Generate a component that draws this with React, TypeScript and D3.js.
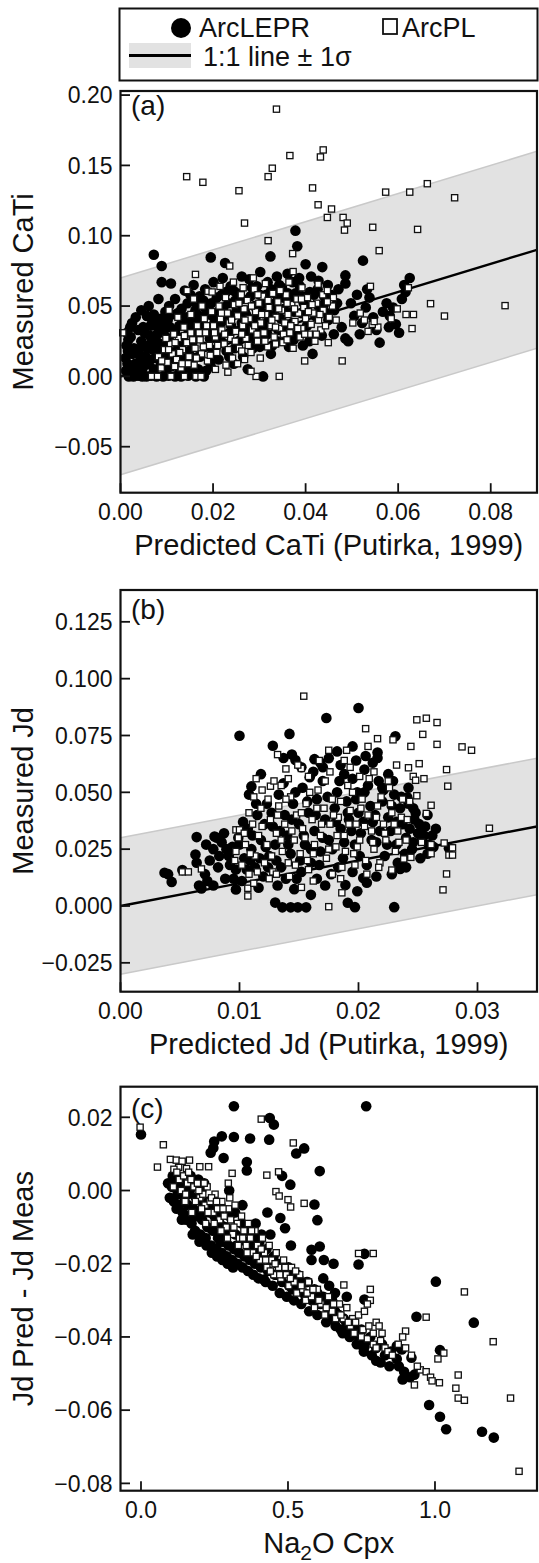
import React from 'react';
import * as d3 from 'd3';

type P = [number, number];

// ---------- Panel (a): CaTi ----------
const A_LEPR: P[] = [
  [0.0018,0.000],[0.0028,0.000],[0.0038,0.0005],[0.0047,0.000],[0.0056,0.000],[0.0066,0.0005],[0.0078,0.000],[0.0092,0.000],[0.0104,0.0005],[0.0118,0.000],[0.0131,0.000],[0.0146,0.0005],[0.0163,0.000],[0.018,0.000],[0.0308,0.000],
  [0.0012,0.004],[0.0015,0.009],[0.0011,0.013],[0.0016,0.018],[0.0013,0.022],[0.0017,0.026],[0.0014,0.031],[0.0021,0.035],[0.0025,0.038],[0.0033,0.042],[0.0022,0.028],[0.0026,0.016],[0.0024,0.006],
  [0.0035,0.003],[0.0048,0.006],[0.0042,0.011],[0.0061,0.009],[0.0055,0.014],[0.0072,0.005],[0.0036,0.019],[0.0058,0.02],[0.0075,0.013],[0.0084,0.018],[0.0045,0.025],[0.0068,0.025],[0.0088,0.009],[0.0098,0.014],[0.0095,0.022],[0.0052,0.031],[0.0079,0.03],[0.0104,0.027],[0.0112,0.018],[0.0121,0.009],[0.0133,0.013],[0.0128,0.004],[0.0141,0.007],[0.0153,0.011],[0.0168,0.005],[0.0172,0.014],[0.0148,0.018],[0.0125,0.023],[0.0118,0.031],[0.0091,0.035],[0.0065,0.036],[0.0102,0.04],
  [0.0061,0.050],[0.0045,0.047],[0.0072,0.044],[0.0089,0.0785],[0.0072,0.0865],[0.0089,0.067],[0.0109,0.066],[0.0082,0.055],[0.0105,0.05],[0.0124,0.045],[0.0118,0.055],[0.0138,0.038],[0.0145,0.052],[0.0139,0.061],[0.0162,0.047],[0.0171,0.057],[0.0158,0.065],[0.0195,0.0846],[0.0183,0.062],[0.0201,0.067],[0.0221,0.07],[0.0226,0.0806],[0.0238,0.064],[0.0252,0.059],[0.0262,0.071],[0.0278,0.069],[0.0302,0.0742],[0.0295,0.064],[0.0318,0.067],[0.0324,0.0853],[0.0338,0.071],[0.0349,0.063],[0.0361,0.073],[0.0372,0.067],[0.0378,0.1036],[0.0382,0.0925],[0.0386,0.07],[0.040,0.0797],[0.0412,0.071],[0.0436,0.0777],[0.0428,0.068],[0.0448,0.065],[0.0486,0.0718],[0.0524,0.0823],[0.0625,0.070],
  [0.0155,0.024],[0.0168,0.029],[0.0182,0.021],[0.0191,0.033],[0.0178,0.038],[0.0162,0.034],[0.0199,0.043],[0.0184,0.048],[0.0207,0.027],[0.0215,0.037],[0.0222,0.049],[0.0229,0.018],[0.0236,0.031],[0.0241,0.043],[0.0248,0.054],[0.0255,0.025],[0.0262,0.038],[0.0268,0.047],[0.0275,0.031],[0.0281,0.057],[0.0286,0.02],[0.0292,0.042],[0.0298,0.05],[0.0305,0.028],[0.0311,0.036],[0.0315,0.058],[0.0322,0.045],[0.0328,0.022],[0.0334,0.052],[0.0341,0.033],[0.0347,0.041],[0.0352,0.056],[0.0359,0.027],[0.0365,0.048],[0.0371,0.038],[0.0378,0.059],[0.0383,0.031],[0.039,0.045],[0.0396,0.052],[0.0403,0.036],[0.0409,0.06],[0.0415,0.016],[0.0421,0.043],[0.0428,0.05],[0.0435,0.029],[0.0442,0.056],[0.0449,0.04],[0.0212,0.012],[0.0245,0.009],[0.0265,0.014],[0.0275,0.005],[0.0195,0.007],[0.0228,0.06],[0.0208,0.056],[0.0198,0.016],
  [0.0462,0.047],[0.0471,0.062],[0.0478,0.035],[0.0486,0.027],[0.0492,0.025],[0.0498,0.052],[0.0505,0.043],[0.0511,0.058],[0.0517,0.030],[0.0522,0.038],[0.053,0.049],[0.0538,0.056],[0.0546,0.042],[0.0553,0.033],[0.056,0.024],[0.0567,0.046],[0.0575,0.052],[0.058,0.035],[0.0582,0.043],[0.0589,0.049],[0.0595,0.037],[0.0602,0.031],[0.0608,0.055],[0.0616,0.06],[0.0613,0.065],[0.0533,0.062],[0.0486,0.066],[0.0461,0.03],
  [0.0032,0.009],[0.0041,0.016],[0.0053,0.022],[0.0049,0.035],[0.0063,0.029],[0.0071,0.019],[0.0069,0.039],[0.0081,0.024],[0.0086,0.041],[0.0093,0.031],[0.0097,0.046],[0.0107,0.035],[0.0111,0.044],[0.0114,0.011],[0.0127,0.036],[0.0132,0.048],[0.0136,0.028],[0.0142,0.042],[0.0147,0.033],[0.0151,0.058],[0.0157,0.039],[0.0164,0.052],[0.0169,0.043],[0.0176,0.032],[0.0179,0.054],[0.0187,0.044],[0.0193,0.027],[0.0196,0.052],[0.0203,0.038],[0.0211,0.046],[0.0217,0.031],[0.0219,0.058],[0.0226,0.04],[0.0233,0.052],[0.0239,0.036],[0.0244,0.061],[0.0251,0.047],[0.0258,0.033],[0.0263,0.055],[0.0271,0.044],[0.0277,0.036],[0.0284,0.063],[0.0289,0.05],[0.0294,0.033],[0.0301,0.058],[0.0308,0.045],[0.0313,0.052],[0.0319,0.039],[0.0326,0.062],[0.0331,0.047],[0.0337,0.058],[0.0343,0.065],[0.0354,0.048],[0.0362,0.059],[0.0368,0.055],[0.0375,0.046],[0.0388,0.064],[0.0393,0.057],[0.0401,0.048],[0.0418,0.058],[0.0426,0.062],[0.0439,0.051],[0.0445,0.045],[0.0455,0.058],[0.0468,0.052],[0.0193,0.01],[0.0221,0.024],[0.0247,0.02],[0.0262,0.027],[0.0283,0.027],[0.0317,0.03],[0.0339,0.025],[0.0356,0.034],[0.0374,0.026],[0.0394,0.022],[0.0408,0.025],[0.0057,0.043],[0.0038,0.033],[0.0029,0.02],[0.0077,0.036],[0.0099,0.005],[0.0109,0.007],[0.0138,0.002],[0.0155,0.003],[0.0185,0.004],[0.0205,0.019],[0.0235,0.014],[0.0301,0.021],[0.0325,0.016],[0.0364,0.021],
];

const A_PL: P[] = [
  [0.0337,0.190],[0.0143,0.142],[0.0178,0.138],[0.0256,0.132],[0.0268,0.109],[0.0319,0.142],[0.0328,0.148],[0.0366,0.157],[0.0432,0.156],[0.0438,0.161],[0.0415,0.134],[0.0427,0.122],[0.0456,0.119],[0.0447,0.113],[0.0481,0.113],[0.049,0.109],[0.0484,0.104],[0.0545,0.106],[0.0573,0.131],[0.0625,0.131],[0.0663,0.137],[0.0722,0.127],[0.0642,0.1045],[0.0559,0.0894],[0.0319,0.0965],[0.0372,0.0873],[0.0373,0.0745],[0.0236,0.0785],[0.0162,0.0725],[0.0144,0.061],[0.0189,0.0605],[0.054,0.064],[0.0622,0.063],[0.067,0.0517],[0.0831,0.0503],[0.070,0.0429],[0.0617,0.044],[0.0633,0.044],[0.0105,0.047],[0.0427,0.0655],[0.0437,0.058],[0.046,0.056],[0.0447,0.061],[0.063,0.034],[0.0556,0.035],[0.0544,0.037],[0.0527,0.04],[0.0449,0.024],[0.0479,0.011],[0.0398,0.011],[0.0343,0.000],[0.0293,0.000],[0.0282,0.0036],[0.0302,0.013],[0.0067,0.000],[0.008,0.000],[0.0109,0.000],[0.0138,0.000],[0.0163,0.000],[0.0174,0.000],[0.0005,0.031],
  [0.0082,0.014],[0.0095,0.019],[0.0088,0.006],[0.0101,0.01],[0.0112,0.016],[0.0108,0.023],[0.0121,0.012],[0.0125,0.027],[0.0134,0.019],[0.0131,0.006],[0.0143,0.024],[0.0148,0.014],[0.0152,0.031],[0.0159,0.008],[0.0161,0.02],[0.0166,0.036],[0.0172,0.026],[0.0175,0.016],[0.0181,0.041],[0.0184,0.031],[0.0188,0.011],[0.0192,0.022],[0.0197,0.046],[0.0201,0.036],[0.0205,0.028],[0.0208,0.017],[0.0213,0.05],[0.0216,0.041],[0.0219,0.033],[0.0224,0.023],[0.0227,0.056],[0.0231,0.045],[0.0235,0.038],[0.0238,0.027],[0.0242,0.013],[0.0246,0.051],[0.0249,0.032],[0.0253,0.043],[0.0257,0.02],[0.0261,0.058],[0.0264,0.036],[0.0267,0.048],[0.0271,0.027],[0.0274,0.054],[0.0278,0.041],[0.0282,0.017],[0.0285,0.033],[0.0289,0.062],[0.0292,0.046],[0.0296,0.025],[0.0299,0.052],[0.0303,0.038],[0.0307,0.057],[0.031,0.031],[0.0314,0.044],[0.0318,0.021],[0.0321,0.049],[0.0325,0.036],[0.0329,0.059],[0.0332,0.028],[0.0336,0.042],[0.034,0.053],[0.0344,0.034],[0.0348,0.047],[0.0351,0.024],[0.0355,0.038],[0.0358,0.058],[0.0362,0.044],[0.0366,0.031],[0.037,0.051],[0.0373,0.02],[0.0377,0.039],[0.0381,0.055],[0.0385,0.045],[0.0388,0.028],[0.0392,0.034],[0.0396,0.049],[0.04,0.041],[0.0404,0.056],[0.0408,0.03],[0.0412,0.037],[0.0416,0.045],[0.042,0.025],[0.0424,0.052],[0.0428,0.04],[0.0433,0.033],[0.0438,0.047],[0.0443,0.036],[0.0451,0.042],[0.0458,0.05],[0.0466,0.04],[0.0502,0.038],[0.0518,0.045],[0.0535,0.032],[0.0548,0.039],[0.0585,0.041],[0.0598,0.048],[0.0198,0.06],[0.0215,0.064],[0.0244,0.067],[0.0265,0.063],[0.0287,0.07],[0.0313,0.066],[0.0345,0.061],[0.0364,0.067],[0.0392,0.063],[0.0152,0.044],[0.0137,0.035],[0.0124,0.042],[0.0115,0.03],[0.0098,0.027],[0.0176,0.05],[0.0158,0.055],[0.0205,0.005],[0.0228,0.008],[0.0253,0.009],[0.0268,0.012],[0.0232,0.003],
  [0.0089,0.011],[0.0104,0.019],[0.0118,0.024],[0.0128,0.017],[0.0138,0.029],[0.0146,0.009],[0.0156,0.026],[0.0164,0.013],[0.017,0.031],[0.0179,0.021],[0.0186,0.036],[0.0194,0.015],[0.0203,0.031],[0.021,0.022],[0.0218,0.045],[0.0225,0.03],[0.0233,0.019],[0.024,0.04],[0.0248,0.025],[0.0256,0.052],[0.0262,0.03],[0.0269,0.04],[0.0276,0.022],[0.0283,0.05],[0.029,0.036],[0.0297,0.058],[0.0305,0.044],[0.0312,0.025],[0.0319,0.054],[0.0327,0.04],[0.0335,0.035],[0.0342,0.048],[0.0352,0.03],[0.036,0.052],[0.0368,0.036],[0.0376,0.048],[0.0383,0.034],[0.0391,0.055],[0.0398,0.03],[0.0406,0.046],[0.0414,0.051],[0.0423,0.03],[0.0431,0.044],[0.0447,0.053],[0.0262,0.018],[0.0295,0.03],[0.0335,0.023],[0.036,0.026],[0.0133,0.009],[0.0117,0.007],
];

// ---------- Panel (b): Jd ----------
const B_LEPR: P[] = [
  [0.0037,0.0146],[0.004,0.014],[0.0043,0.0106],[0.0052,0.0158],[0.0064,0.0303],[0.0063,0.0226],[0.0064,0.019],[0.0066,0.009],[0.0068,0.0077],[0.0073,0.011],[0.0079,0.0306],[0.0097,0.0073],[0.013,0.0015],[0.0136,-0.0006],[0.0143,-0.0006],[0.0149,-0.0006],[0.0156,-0.0006],[0.0146,0.0074],[0.016,0.0049],[0.0191,0.0014],[0.0197,-0.0005],[0.0199,0.0065],[0.0204,0.0123],[0.0207,0.0102],[0.023,-0.0005],[0.0189,0.0092],[0.0235,0.0163],[0.0238,0.0173],[0.0241,0.0478],[0.0276,0.0254],
  [0.0100,0.0749],[0.0200,0.0871],[0.0173,0.0827],[0.0142,0.0757],[0.0128,0.0705],[0.0231,0.0747],[0.0195,0.0702],[0.0137,0.0651],[0.0144,0.0666],[0.0147,0.0642],[0.0163,0.0646],[0.0175,0.065],[0.0182,0.068],[0.0206,0.066],[0.0216,0.0675],[0.0216,0.0651],[0.0118,0.058],[0.0110,0.0526],[0.0108,0.049],[0.0159,0.0566],[0.0170,0.061],[0.022,0.052],
  [0.0071,0.014],[0.0075,0.02],[0.0078,0.025],[0.0082,0.017],[0.0085,0.028],[0.0088,0.012],[0.0091,0.022],[0.0094,0.026],[0.0097,0.016],[0.0099,0.03],[0.0102,0.011],[0.0104,0.021],[0.0107,0.034],[0.011,0.025],[0.0113,0.017],[0.0115,0.04],[0.0118,0.029],[0.012,0.013],[0.0123,0.045],[0.0125,0.022],[0.0128,0.035],[0.013,0.027],[0.0133,0.049],[0.0135,0.017],[0.0138,0.04],[0.014,0.031],[0.0143,0.023],[0.0145,0.045],[0.0148,0.012],[0.015,0.036],[0.0153,0.052],[0.0155,0.027],[0.0158,0.041],[0.016,0.019],[0.0163,0.033],[0.0165,0.047],[0.0168,0.024],[0.017,0.055],[0.0172,0.038],[0.0175,0.029],[0.0177,0.014],[0.018,0.043],[0.0182,0.05],[0.0185,0.034],[0.0187,0.021],[0.019,0.046],[0.0192,0.038],[0.0195,0.056],[0.0197,0.027],[0.02,0.041],[0.0202,0.032],[0.0205,0.05],[0.0207,0.018],[0.021,0.044],[0.0212,0.037],[0.0215,0.028],[0.0217,0.055],[0.022,0.046],[0.0222,0.022],[0.0225,0.039],[0.0227,0.033],[0.023,0.049],[0.0232,0.027],[0.0235,0.043],[0.0237,0.036],[0.024,0.03],[0.0242,0.045],[0.0245,0.025],[0.0247,0.038],[0.025,0.032],[0.0253,0.029],[0.0256,0.035],[0.0259,0.027],[0.0262,0.031],[0.0252,0.021],[0.0228,0.014],[0.0195,0.015],[0.0172,0.009],[0.0152,0.015],[0.0132,0.009],[0.0116,0.008],[0.0205,0.06],[0.0188,0.058],[0.0225,0.058],[0.0162,0.059],[0.0198,0.064],[0.0258,0.023],[0.0248,0.041],[0.024,0.017],
  [0.0072,0.027],[0.0078,0.009],[0.0083,0.022],[0.0087,0.032],[0.0092,0.018],[0.0095,0.012],[0.01,0.027],[0.0103,0.037],[0.0106,0.016],[0.0111,0.031],[0.0114,0.045],[0.0117,0.021],[0.0121,0.036],[0.0124,0.017],[0.0127,0.041],[0.0131,0.02],[0.0134,0.033],[0.0137,0.054],[0.0141,0.027],[0.0144,0.038],[0.0147,0.05],[0.0151,0.02],[0.0154,0.031],[0.0157,0.046],[0.016,0.025],[0.0164,0.04],[0.0167,0.018],[0.017,0.03],[0.0174,0.048],[0.0178,0.025],[0.0181,0.037],[0.0184,0.055],[0.0188,0.028],[0.0191,0.041],[0.0194,0.033],[0.0198,0.047],[0.0201,0.022],[0.0204,0.037],[0.0208,0.053],[0.0211,0.029],[0.0214,0.04],[0.0218,0.033],[0.0221,0.051],[0.0224,0.027],[0.0228,0.044],[0.0232,0.037],[0.0236,0.048],[0.0239,0.023],[0.0243,0.034],[0.0246,0.028],[0.0251,0.036],[0.0255,0.031],[0.0246,0.043],[0.0233,0.019],[0.0215,0.013],[0.0183,0.017],[0.0165,0.012],[0.0139,0.012],[0.0122,0.026],[0.0109,0.02],[0.0089,0.025],[0.0081,0.03],[0.0185,0.062],[0.0168,0.063],[0.0212,0.063],[0.0152,0.061],[0.0199,0.05],[0.0229,0.055],[0.0242,0.052],[0.0258,0.04],[0.0265,0.034],[0.0263,0.026],
];

const B_PL: P[] = [
  [0.0154,0.0923],[0.0206,0.078],[0.0216,0.0736],[0.0229,0.0731],[0.0249,0.0819],[0.0257,0.0826],[0.0266,0.0807],[0.0254,0.0755],[0.0266,0.0711],[0.0244,0.0702],[0.0287,0.070],[0.0295,0.0685],[0.0274,0.060],[0.0275,0.0527],[0.0232,0.062],[0.0242,0.0608],[0.0251,0.0626],[0.0246,0.057],[0.0248,0.0553],[0.0255,0.056],[0.0208,0.0702],[0.019,0.0685],[0.0175,0.0685],[0.0132,0.0666],[0.0152,0.0605],[0.0139,0.0603],[0.0141,0.056],[0.0114,0.056],[0.0126,0.0527],
  [0.031,0.0342],[0.0271,0.0071],[0.0274,0.0141],[0.0276,0.0224],[0.0279,0.0224],[0.0279,0.0256],[0.0272,0.0277],[0.0175,-0.0003],[0.0186,0.0058],[0.0107,0.0044],[0.0107,0.0078],[0.0152,0.0082],[0.0052,0.015],[0.0057,0.015],[0.0068,0.0163],[0.0243,0.046],[0.0249,0.0485],[0.0261,0.0443],[0.0257,0.0407],[0.0261,0.027],[0.0261,0.023],[0.0253,0.028],[0.0244,0.0214],[0.0238,0.0207],[0.0228,0.0158],[0.0097,0.0335],[0.0100,0.0335],
  [0.0102,0.018],[0.0105,0.027],[0.0108,0.014],[0.0111,0.036],[0.0113,0.022],[0.0116,0.031],[0.0118,0.043],[0.0121,0.019],[0.0123,0.027],[0.0126,0.038],[0.0128,0.015],[0.0131,0.032],[0.0133,0.044],[0.0136,0.024],[0.0138,0.036],[0.0141,0.019],[0.0143,0.048],[0.0146,0.029],[0.0148,0.04],[0.0151,0.023],[0.0153,0.034],[0.0156,0.045],[0.0158,0.016],[0.0161,0.038],[0.0163,0.027],[0.0166,0.051],[0.0168,0.031],[0.0171,0.043],[0.0173,0.021],[0.0176,0.036],[0.0178,0.047],[0.0181,0.026],[0.0183,0.039],[0.0186,0.017],[0.0188,0.031],[0.0191,0.053],[0.0193,0.042],[0.0196,0.023],[0.0198,0.036],[0.0201,0.029],[0.0203,0.047],[0.0206,0.02],[0.0208,0.04],[0.0211,0.033],[0.0213,0.025],[0.0216,0.044],[0.0218,0.019],[0.0221,0.036],[0.0223,0.029],[0.0226,0.052],[0.0228,0.041],[0.0231,0.024],[0.0233,0.033],[0.0236,0.039],[0.024,0.029],[0.0119,0.051],[0.0135,0.053],[0.0158,0.057],[0.0176,0.059],[0.0193,0.061],[0.0213,0.059],[0.0225,0.055],[0.0108,0.041],[0.0097,0.024],[0.0112,0.01],[0.0125,0.012],[0.0142,0.013],[0.0162,0.011],[0.0185,0.012],[0.0207,0.014],[0.0217,0.017],
  [0.0104,0.032],[0.0109,0.023],[0.0115,0.015],[0.0119,0.035],[0.0124,0.047],[0.0127,0.022],[0.0132,0.04],[0.0135,0.029],[0.0139,0.047],[0.0144,0.033],[0.0147,0.018],[0.0152,0.041],[0.0155,0.03],[0.0159,0.05],[0.0162,0.023],[0.0165,0.043],[0.0169,0.036],[0.0172,0.055],[0.0175,0.025],[0.0179,0.04],[0.0182,0.031],[0.0185,0.046],[0.0189,0.024],[0.0192,0.036],[0.0195,0.05],[0.0199,0.026],[0.0202,0.043],[0.0205,0.035],[0.0209,0.056],[0.0212,0.028],[0.0215,0.039],[0.0219,0.048],[0.0222,0.032],[0.0227,0.045],[0.023,0.036],[0.0234,0.028],[0.0237,0.047],[0.0241,0.038],[0.0129,0.055],[0.0149,0.062],[0.0167,0.064],[0.0188,0.064],[0.0201,0.057],[0.0112,0.048],[0.0099,0.03],[0.0096,0.02],[0.0157,0.02],[0.0178,0.014],[0.0197,0.018],[0.0131,0.014],
];

// ---------- Panel (c): residual vs Na2O ----------
const C_LEPR: P[] = [
  [0.0,0.0153],[0.316,0.023],[0.766,0.023],[0.438,0.0198],[0.452,0.018],[0.275,0.0148],[0.316,0.0146],[0.371,0.0142],[0.436,0.0139],[0.249,0.0134],[0.246,0.0116],[0.237,0.0103],[0.281,0.0089],[0.555,0.0115],[0.528,0.0101],[0.608,0.0053],[0.36,0.0078],[0.36,0.0055],[0.508,0.0016],[0.48,0.004],[0.59,-0.0038],[0.60,-0.0081],[0.474,-0.0075],[0.49,-0.0103],[0.608,-0.0153],[0.58,-0.0162],[0.74,-0.0202],[0.76,-0.0173],[1.003,-0.0249],[0.622,-0.019],[0.655,-0.02],
  [0.418,-0.0243],[0.937,-0.0345],[1.132,-0.0361],[1.017,-0.0436],[0.87,-0.0425],[0.887,-0.0434],[0.92,-0.0457],[0.877,-0.048],[0.895,-0.0495],[0.89,-0.0516],[0.915,-0.051],[0.93,-0.0503],[0.98,-0.0586],[1.017,-0.0618],[1.038,-0.0652],[1.16,-0.0659],[1.2,-0.0675],[0.75,-0.0422],[0.76,-0.0427],[0.8,-0.0465],[0.68,-0.038],[0.70,-0.0378],[0.76,-0.0298],[0.64,-0.026],[0.66,-0.028],[0.515,-0.027],
  [0.092,0.002],[0.098,-0.002],[0.105,0.001],[0.112,-0.003],[0.118,0.003],[0.124,-0.001],[0.13,-0.004],[0.136,0.001],[0.142,-0.006],[0.148,-0.002],[0.154,-0.008],[0.16,-0.004],[0.166,0.0],[0.172,-0.009],[0.178,-0.005],[0.184,-0.011],[0.19,-0.007],[0.196,-0.002],[0.202,-0.012],[0.208,-0.008],[0.214,-0.004],[0.22,-0.013],[0.226,-0.01],[0.232,-0.006],[0.238,-0.015],[0.244,-0.011],[0.25,-0.007],[0.256,-0.016],[0.262,-0.013],[0.268,-0.009],[0.274,-0.017],[0.28,-0.014],[0.286,-0.01],[0.292,-0.018],[0.298,-0.015],[0.304,-0.011],[0.31,-0.019],[0.316,-0.016],[0.322,-0.012],[0.328,-0.02],[0.334,-0.017],[0.34,-0.013],[0.346,-0.021],[0.352,-0.018],[0.358,-0.014],[0.364,-0.022],[0.37,-0.019],[0.376,-0.015],[0.382,-0.023],[0.388,-0.02],[0.394,-0.016],[0.4,-0.024],[0.408,-0.021],[0.416,-0.017],[0.424,-0.025],[0.432,-0.022],[0.44,-0.019],[0.448,-0.026],[0.456,-0.023],[0.464,-0.02],[0.472,-0.028],[0.48,-0.025],[0.488,-0.022],[0.496,-0.029],[0.504,-0.026],[0.512,-0.023],[0.52,-0.03],[0.528,-0.027],[0.536,-0.024],[0.545,-0.031],[0.554,-0.028],[0.563,-0.025],[0.572,-0.033],[0.581,-0.03],[0.59,-0.027],[0.6,-0.034],[0.61,-0.031],[0.62,-0.029],[0.63,-0.036],[0.64,-0.033],[0.65,-0.03],[0.662,-0.037],[0.674,-0.034],[0.686,-0.039],[0.698,-0.036],[0.71,-0.04],[0.722,-0.037],[0.734,-0.042],[0.746,-0.039],[0.758,-0.044],[0.77,-0.041],[0.785,-0.045],[0.8,-0.043],[0.815,-0.047],[0.83,-0.045],[0.845,-0.048],[0.215,0.002],[0.195,0.003],[0.27,-0.004],[0.32,-0.006],[0.41,-0.012],[0.3,0.0],
  [0.108,0.004],[0.121,-0.005],[0.134,0.003],[0.139,-0.008],[0.151,0.001],[0.163,-0.007],[0.169,0.004],[0.176,-0.012],[0.187,-0.002],[0.199,-0.014],[0.205,0.0],[0.211,-0.006],[0.223,-0.015],[0.229,-0.003],[0.241,-0.017],[0.247,-0.004],[0.259,-0.018],[0.265,-0.006],[0.277,-0.019],[0.283,-0.012],[0.295,-0.02],[0.301,-0.007],[0.313,-0.021],[0.325,-0.015],[0.343,-0.009],[0.361,-0.011],[0.385,-0.013],[0.403,-0.014],[0.427,-0.016],[0.451,-0.018],[0.477,-0.02],[0.502,-0.021],[0.533,-0.023],[0.567,-0.025],[0.6,-0.028],[0.63,-0.03],[0.66,-0.033],[0.69,-0.035],[0.72,-0.036],[0.75,-0.038],[0.78,-0.04],[0.82,-0.042],[0.85,-0.044],[0.87,-0.046],[0.44,-0.012],[0.39,-0.009],[0.345,-0.004],[0.43,-0.006],[0.51,-0.015],[0.62,-0.024],[0.7,-0.029],[0.58,-0.019],[0.46,-0.023],[0.38,-0.019],[0.27,-0.014],[0.16,-0.001],[0.56,-0.029],[0.65,-0.035],[0.74,-0.04],
];

const C_PL: P[] = [
  [-0.003,0.0173],[0.076,0.0125],[0.056,0.0064],[0.1,0.0085],[0.12,0.0083],[0.14,0.008],[0.165,0.0083],[0.128,0.0063],[0.112,0.0058],[0.155,0.006],[0.2,0.0065],[0.23,0.0065],[0.409,0.0195],[0.518,0.013],[0.468,0.0051],[0.428,0.0042],[0.555,-0.0035],[0.509,-0.0045],[0.459,-0.0003],[0.47,-0.0015],[0.5,-0.0025],[0.31,0.0047],[0.297,0.002],[0.74,-0.0172],[0.79,-0.0172],[0.69,-0.0258],[1.1,-0.0277],[1.286,-0.0767],[1.257,-0.0567],[1.198,-0.0413],[1.079,-0.0504],[1.071,-0.054],[1.079,-0.0567],[1.1,-0.0573],[1.03,-0.0444],[1.01,-0.046],[0.97,-0.0346],[0.95,-0.049],[0.97,-0.0495],[0.985,-0.051],[0.99,-0.052],[1.015,-0.0525],[0.9,-0.0384],[0.89,-0.040],[0.9,-0.043],[0.93,-0.0531],[0.78,-0.027],[0.78,-0.030],[0.77,-0.031],[0.8,-0.036],[0.81,-0.037],[0.82,-0.039],[0.83,-0.043],[0.79,-0.042],[0.8,-0.043],[0.75,-0.04],[0.77,-0.0405],[0.72,-0.035],[0.74,-0.034],[0.76,-0.033],
  [0.13,0.003],[0.145,0.004],[0.158,0.002],[0.17,0.003],[0.18,0.001],[0.192,0.002],[0.2,-0.002],[0.21,-0.001],[0.218,-0.004],[0.225,0.001],[0.235,-0.003],[0.245,-0.006],[0.252,-0.001],[0.26,-0.005],[0.268,-0.008],[0.275,-0.003],[0.283,-0.007],[0.29,-0.01],[0.298,-0.005],[0.305,-0.008],[0.312,-0.012],[0.32,-0.004],[0.328,-0.009],[0.335,-0.013],[0.342,-0.007],[0.35,-0.011],[0.358,-0.015],[0.365,-0.009],[0.372,-0.013],[0.38,-0.017],[0.388,-0.011],[0.396,-0.015],[0.405,-0.019],[0.413,-0.013],[0.42,-0.017],[0.428,-0.021],[0.436,-0.015],[0.444,-0.019],[0.452,-0.023],[0.46,-0.017],[0.468,-0.021],[0.476,-0.024],[0.485,-0.019],[0.494,-0.023],[0.503,-0.026],[0.512,-0.021],[0.521,-0.025],[0.53,-0.028],[0.54,-0.023],[0.55,-0.027],[0.56,-0.03],[0.57,-0.025],[0.58,-0.029],[0.59,-0.032],[0.6,-0.027],[0.612,-0.031],[0.625,-0.034],[0.638,-0.029],[0.65,-0.033],[0.662,-0.035],[0.675,-0.031],[0.688,-0.035],[0.7,-0.032],[0.712,-0.037],[0.725,-0.039],[0.173,-0.006],[0.22,-0.009],[0.15,-0.003],
  [0.11,0.001],[0.122,0.005],[0.137,0.0],[0.152,-0.001],[0.162,0.005],[0.185,-0.003],[0.197,0.0],[0.206,-0.005],[0.215,0.002],[0.228,-0.006],[0.24,-0.002],[0.249,-0.009],[0.257,-0.003],[0.272,-0.011],[0.279,-0.005],[0.294,-0.013],[0.302,-0.002],[0.316,-0.01],[0.331,-0.015],[0.346,-0.013],[0.361,-0.017],[0.376,-0.011],[0.392,-0.018],[0.409,-0.016],[0.424,-0.019],[0.44,-0.022],[0.456,-0.02],[0.472,-0.023],[0.49,-0.021],[0.508,-0.024],[0.526,-0.022],[0.545,-0.026],[0.565,-0.028],[0.585,-0.027],[0.605,-0.03],[0.63,-0.032],[0.655,-0.031],[0.68,-0.034],[0.705,-0.036],[0.73,-0.036],[0.755,-0.038],[0.775,-0.037],[0.79,-0.039],[0.815,-0.041],[0.84,-0.044],[0.855,-0.045],[0.875,-0.042],[0.92,-0.045],[0.94,-0.048],
];

// ---------- ticks & labels ----------
const A_XTICKS = [0, 0.02, 0.04, 0.06, 0.08];
const A_YTICKS = [0.2, 0.15, 0.1, 0.05, 0, -0.05];
const B_XTICKS = [0, 0.01, 0.02, 0.03];
const B_YTICKS = [0.125, 0.1, 0.075, 0.05, 0.025, 0, -0.025];
const C_XTICKS = [0, 0.5, 1.0];
const C_YTICKS = [0.02, 0, -0.02, -0.04, -0.06, -0.08];
const SIGMA_A = 0.07;
const SIGMA_B = 0.03;
const SERIES_NAMES = ['ArcLEPR', 'ArcPL'];
const LINE_LABEL = '1:1 line \u00b1 1\u03c3';

const FONT = '"Liberation Sans", Arial, Helvetica, sans-serif';
const LEFT = 120.5;
const RIGHT = 537;

const fmt = (d: number, n: number) => {
  const s = Math.abs(d).toFixed(n);
  return (d < -1e-12 ? '\u2212' : '') + s;
};

type PanelProps = {
  top: number; bottom: number;
  xDomain: [number, number]; yDomain: [number, number];
  xTicks: number[]; yTicks: number[]; xDec: number; yDec: number;
  lepr: P[]; pl: P[]; sigma?: number;
  tag: string; tagY: number;
  xLabel: React.ReactNode; yLabel: string;
};

function Panel(p: PanelProps) {
  const x = d3.scaleLinear().domain(p.xDomain).range([LEFT, RIGHT]);
  const y = d3.scaleLinear().domain(p.yDomain).range([p.bottom, p.top]);
  const [x0, x1] = p.xDomain;
  const id = 'clip' + p.tag.replace(/[()]/g, '');
  let band: string | null = null;
  let lineD: string | null = null;
  let upper: string | null = null;
  let lower: string | null = null;
  if (p.sigma !== undefined) {
    const s = p.sigma;
    const area = d3.area<number>().x((v) => x(v)).y0((v) => y(v - s)).y1((v) => y(v + s));
    band = area([x0, x1]);
    lineD = d3.line<number>().x((v) => x(v)).y((v) => y(v))([x0, x1]);
    upper = d3.line<number>().x((v) => x(v)).y((v) => y(v + s))([x0, x1]);
    lower = d3.line<number>().x((v) => x(v)).y((v) => y(v - s))([x0, x1]);
  }
  const cy = (p.top + p.bottom) / 2;
  const cx = (LEFT + RIGHT) / 2;
  return (
    <g>
      <defs>
        <clipPath id={id}>
          <rect x={LEFT} y={p.top} width={RIGHT - LEFT} height={p.bottom - p.top} />
        </clipPath>
      </defs>
      {band && (
        <g clipPath={`url(#${id})`}>
          <path d={band} fill="#e2e2e2" />
          <path d={upper!} fill="none" stroke="#c9c9c9" strokeWidth={1.5} />
          <path d={lower!} fill="none" stroke="#c9c9c9" strokeWidth={1.5} />
          <path d={lineD!} fill="none" stroke="#000" strokeWidth={2.4} />
        </g>
      )}
      <g>
        {p.lepr.map((d, i) => (
          <circle key={'c' + i} cx={x(d[0])} cy={y(d[1])} r={5.3} fill="#000" />
        ))}
      </g>
      <g>
        {p.pl.map((d, i) => (
          <rect key={'s' + i} x={x(d[0]) - 3.1} y={y(d[1]) - 3.1} width={6.2} height={6.2}
            fill="#fff" stroke="#111" strokeWidth={1.3} />
        ))}
      </g>
      <rect x={LEFT} y={p.top} width={RIGHT - LEFT} height={p.bottom - p.top} fill="none" stroke="#111" strokeWidth={2.2} />
      {p.yTicks.map((t) => (
        <g key={'yt' + t}>
          <line x1={LEFT} x2={LEFT + 9.5} y1={y(t)} y2={y(t)} stroke="#111" strokeWidth={1.8} />
          <text x={LEFT - 8} y={y(t)} dy="0.36em" textAnchor="end" fontSize={23} fontFamily={FONT} fill="#111">{fmt(t, p.yDec)}</text>
        </g>
      ))}
      {p.xTicks.map((t) => (
        <g key={'xt' + t}>
          <line x1={x(t)} x2={x(t)} y1={p.bottom} y2={p.bottom - 9.5} stroke="#111" strokeWidth={1.8} />
          <text x={x(t)} y={p.bottom + 27} textAnchor="middle" fontSize={23} fontFamily={FONT} fill="#111">{fmt(t, p.xDec)}</text>
        </g>
      ))}
      <text x={131} y={p.tagY} fontSize={28} fontFamily={FONT} fill="#111">{p.tag}</text>
      <text transform={`translate(33, ${cy}) rotate(-90)`} textAnchor="middle" fontSize={29} fontFamily={FONT} fill="#111">{p.yLabel}</text>
      <text x={cx} y={p.bottom + 62} textAnchor="middle" fontSize={29} fontFamily={FONT} fill="#111">{p.xLabel}</text>
    </g>
  );
}

export default function App() {
  return (
    <svg width={539} height={1563} viewBox="0 0 539 1563"
      style={{ position: 'absolute', left: 0, top: 0, background: '#fff' }}>
      <rect x={0} y={0} width={539} height={1563} fill="#fff" />
      <g>
        <rect x={119.5} y={8.5} width={418} height={72} fill="#fff" stroke="#111" strokeWidth={2} />
        <circle cx={181} cy={28} r={10} fill="#000" />
        <text x={199} y={37} fontSize={27} fontFamily={FONT} fill="#111">{SERIES_NAMES[0]}</text>
        <rect x={383} y={19} width={14} height={15} fill="#fff" stroke="#111" strokeWidth={1.8} />
        <text x={402} y={37} fontSize={27} fontFamily={FONT} fill="#111">{SERIES_NAMES[1]}</text>
        <rect x={129} y={43} width={62} height={25} fill="#e2e2e2" />
        <line x1={129} x2={191} y1={55.5} y2={55.5} stroke="#000" strokeWidth={3} />
        <text x={203} y={66} fontSize={27} fontFamily={FONT} fill="#111">{LINE_LABEL}</text>
      </g>
      <Panel top={91} bottom={492.7} xDomain={[0, 0.09]} yDomain={[-0.0827, 0.2029]}
        xTicks={A_XTICKS} yTicks={A_YTICKS} xDec={2} yDec={2}
        lepr={A_LEPR} pl={A_PL} sigma={SIGMA_A} tag="(a)" tagY={115}
        xLabel="Predicted CaTi (Putirka, 1999)" yLabel="Measured CaTi" />
      <Panel top={590} bottom={991.7} xDomain={[0, 0.035]} yDomain={[-0.0377, 0.139]}
        xTicks={B_XTICKS} yTicks={B_YTICKS} xDec={2} yDec={3}
        lepr={B_LEPR} pl={B_PL} sigma={SIGMA_B} tag="(b)" tagY={619}
        xLabel="Predicted Jd (Putirka, 1999)" yLabel="Measured Jd" />
      <Panel top={1086.7} bottom={1490.7} xDomain={[-0.0697, 1.347]} yDomain={[-0.082, 0.02836]}
        xTicks={C_XTICKS} yTicks={C_YTICKS} xDec={1} yDec={2}
        lepr={C_LEPR} pl={C_PL} tag="(c)" tagY={1118}
        xLabel={<><tspan>Na</tspan><tspan dy={7} fontSize={21}>2</tspan><tspan dy={-7}>O Cpx</tspan></>}
        yLabel="Jd Pred - Jd Meas" />
    </svg>
  );
}
